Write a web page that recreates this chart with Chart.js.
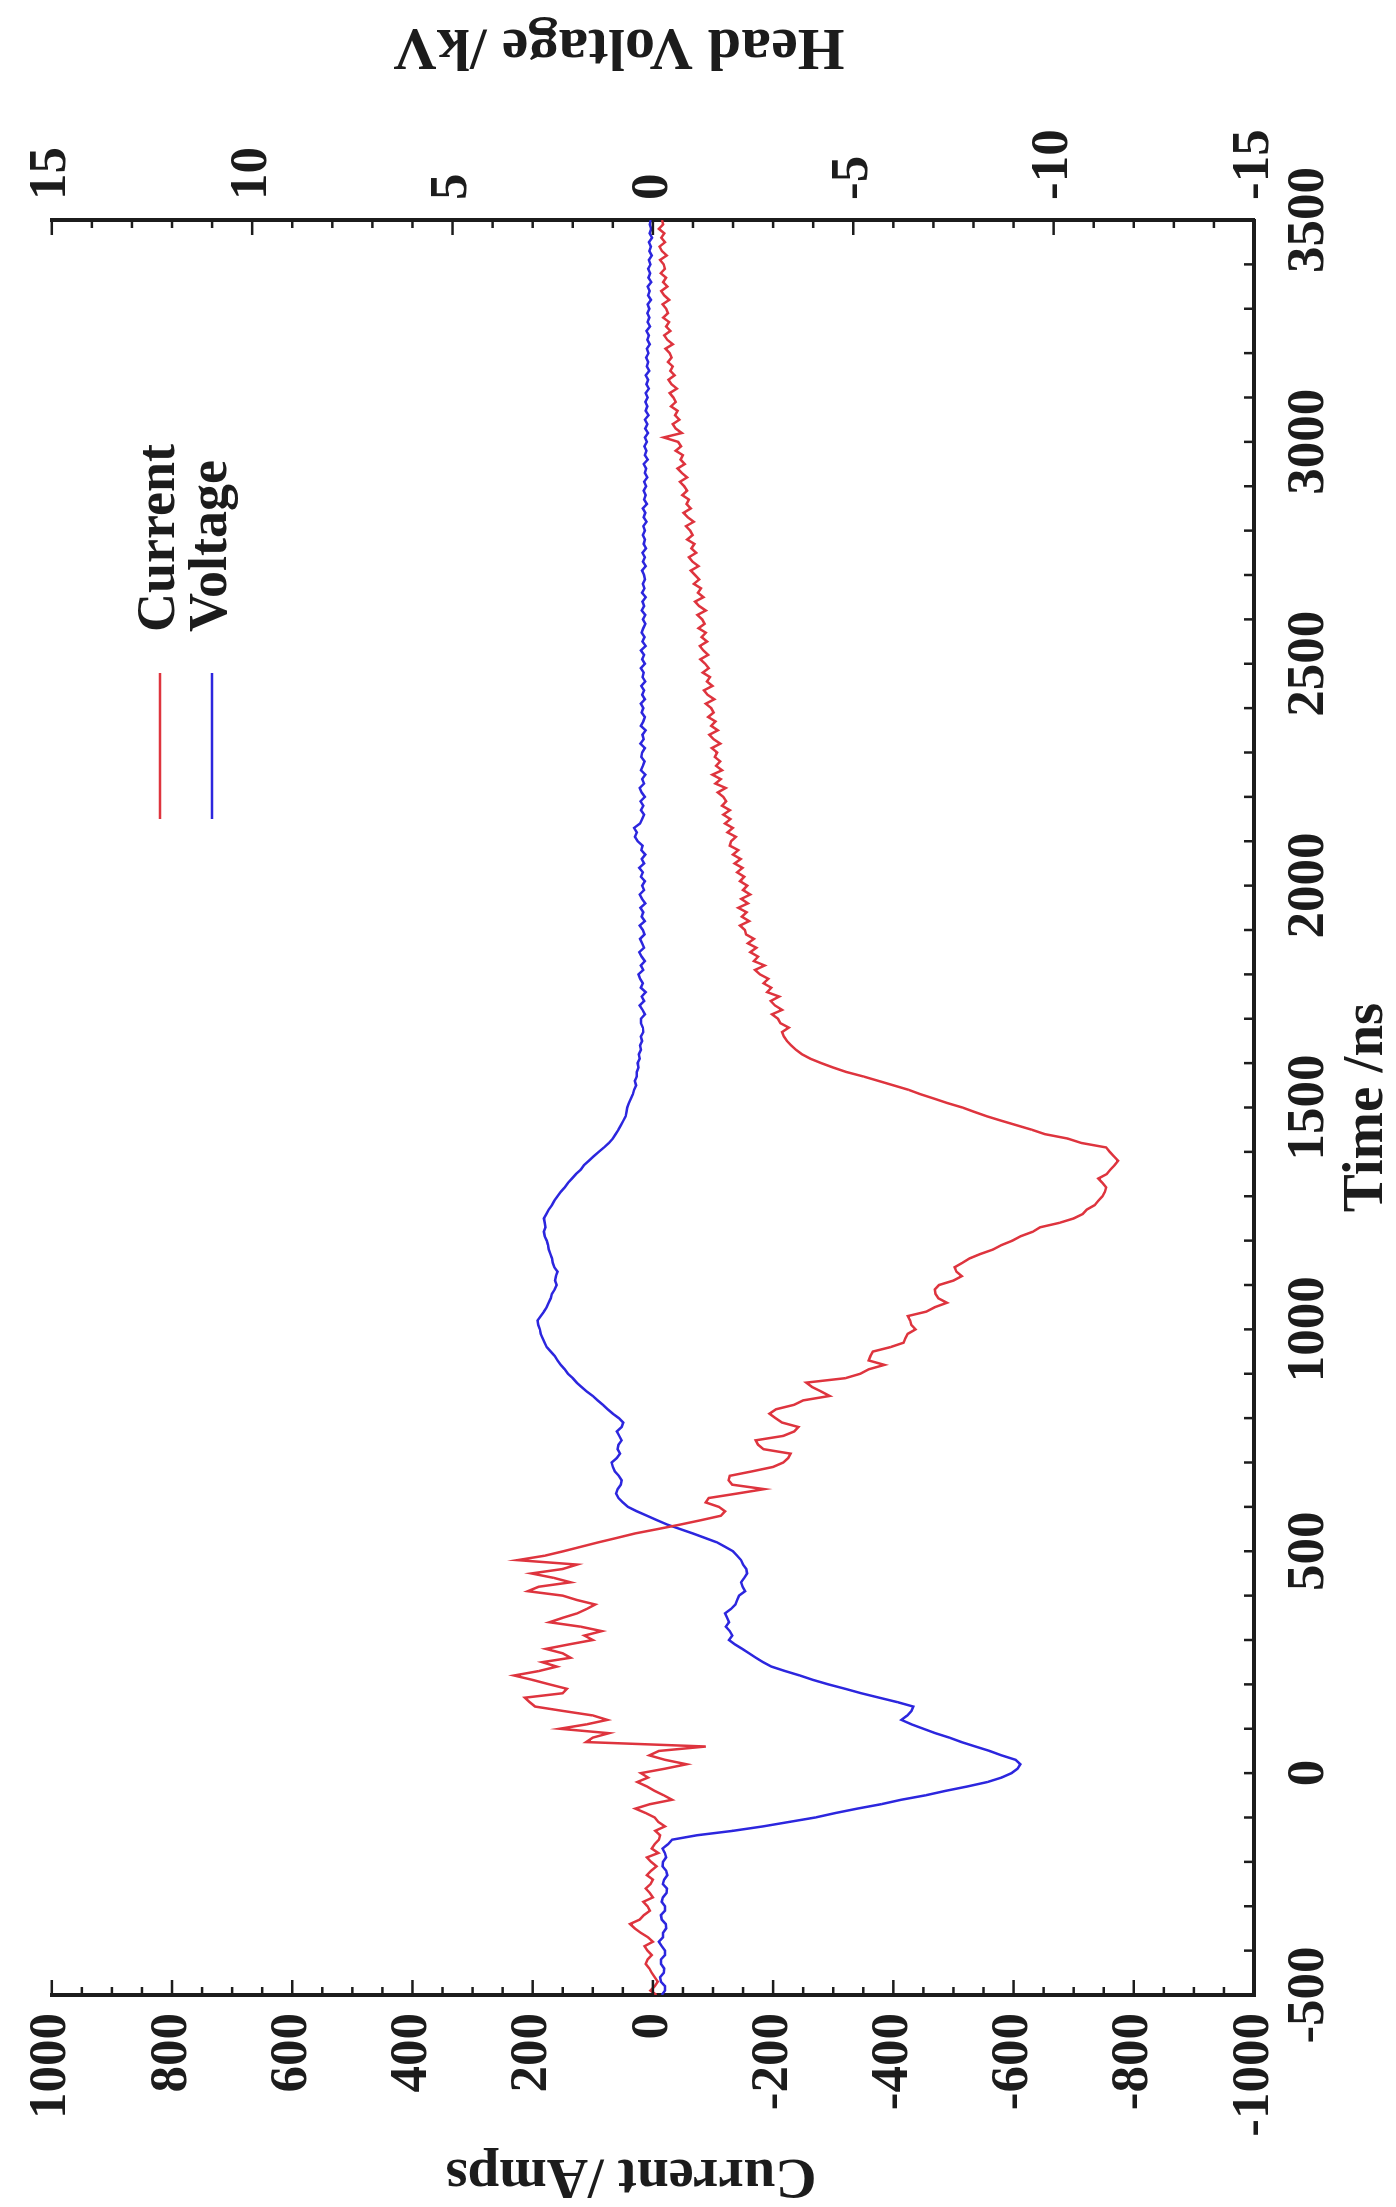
<!DOCTYPE html>
<html>
<head>
<meta charset="utf-8">
<title>Current and head voltage</title>
<script src="https://cdn.jsdelivr.net/npm/chart.js@4.4.1/dist/chart.umd.min.js"></script>
<style>
  html, body { margin: 0; padding: 0; background: #fff; overflow: hidden; }
  /* the original figure is printed sideways, so the whole chart is turned a quarter turn */
  #wrap {
    position: absolute; left: 0; top: 0;
    width: 2207px; height: 1396px;
    transform-origin: 0 0;
    transform: translate(0px, 2207px) rotate(-90deg);
  }
</style>
</head>
<body>
<div id="wrap"><canvas id="myChart" width="2207" height="1396"></canvas></div>
<script>
// time base (ns), one sample every 10 ns
const times = [
  -500, -490, -480, -470, -460, -450, -440, -430, -420, -410, -400, -390, -380, -370, -360, -350, -340, -330, -320, -310,
  -300, -290, -280, -270, -260, -250, -240, -230, -220, -210, -200, -190, -180, -170, -160, -150, -140, -130, -120, -110,
  -100, -90, -80, -70, -60, -50, -40, -30, -20, -10, 0, 10, 20, 30, 40, 50, 60, 70, 80, 90,
  100, 110, 120, 130, 140, 150, 160, 170, 180, 190, 200, 210, 220, 230, 240, 250, 260, 270, 280, 290,
  300, 310, 320, 330, 340, 350, 360, 370, 380, 390, 400, 410, 420, 430, 440, 450, 460, 470, 480, 490,
  500, 510, 520, 530, 540, 550, 560, 570, 580, 590, 600, 610, 620, 630, 640, 650, 660, 670, 680, 690,
  700, 710, 720, 730, 740, 750, 760, 770, 780, 790, 800, 810, 820, 830, 840, 850, 860, 870, 880, 890,
  900, 910, 920, 930, 940, 950, 960, 970, 980, 990, 1000, 1010, 1020, 1030, 1040, 1050, 1060, 1070, 1080, 1090,
  1100, 1110, 1120, 1130, 1140, 1150, 1160, 1170, 1180, 1190, 1200, 1210, 1220, 1230, 1240, 1250, 1260, 1270, 1280, 1290,
  1300, 1310, 1320, 1330, 1340, 1350, 1360, 1370, 1380, 1390, 1400, 1410, 1420, 1430, 1440, 1450, 1460, 1470, 1480, 1490,
  1500, 1510, 1520, 1530, 1540, 1550, 1560, 1570, 1580, 1590, 1600, 1610, 1620, 1630, 1640, 1650, 1660, 1670, 1680, 1690,
  1700, 1710, 1720, 1730, 1740, 1750, 1760, 1770, 1780, 1790, 1800, 1810, 1820, 1830, 1840, 1850, 1860, 1870, 1880, 1890,
  1900, 1910, 1920, 1930, 1940, 1950, 1960, 1970, 1980, 1990, 2000, 2010, 2020, 2030, 2040, 2050, 2060, 2070, 2080, 2090,
  2100, 2110, 2120, 2130, 2140, 2150, 2160, 2170, 2180, 2190, 2200, 2210, 2220, 2230, 2240, 2250, 2260, 2270, 2280, 2290,
  2300, 2310, 2320, 2330, 2340, 2350, 2360, 2370, 2380, 2390, 2400, 2410, 2420, 2430, 2440, 2450, 2460, 2470, 2480, 2490,
  2500, 2510, 2520, 2530, 2540, 2550, 2560, 2570, 2580, 2590, 2600, 2610, 2620, 2630, 2640, 2650, 2660, 2670, 2680, 2690,
  2700, 2710, 2720, 2730, 2740, 2750, 2760, 2770, 2780, 2790, 2800, 2810, 2820, 2830, 2840, 2850, 2860, 2870, 2880, 2890,
  2900, 2910, 2920, 2930, 2940, 2950, 2960, 2970, 2980, 2990, 3000, 3010, 3020, 3030, 3040, 3050, 3060, 3070, 3080, 3090,
  3100, 3110, 3120, 3130, 3140, 3150, 3160, 3170, 3180, 3190, 3200, 3210, 3220, 3230, 3240, 3250, 3260, 3270, 3280, 3290,
  3300, 3310, 3320, 3330, 3340, 3350, 3360, 3370, 3380, 3390, 3400, 3410, 3420, 3430, 3440, 3450, 3460, 3470, 3480, 3490,
  3500
];

// current (Amps)
const current = [
  -6, 4, -3, -8, -3, 2, 6, 12, 9, 2, 9, 14, 0, 8, 20, 30, 38, 22, 15, 5,
  9, 16, 0, 5, 12, 4, 0, 10, 3, -6, 3, 10, -9, 2, -3, -10, -12, -4, -20, -9,
  -3, 12, 29, 5, -32, -18, -3, 10, 26, 8, 20, -20, -56, -20, 6, -10, -88, 111, 100, 73,
  155, 110, 76, 100, 149, 196, 205, 213, 150, 143, 172, 200, 231, 190, 160, 184, 137, 150, 178, 140,
  100, 114, 85, 120, 172, 150, 126, 110, 96, 126, 150, 208, 190, 137, 165, 202, 150, 126, 225, 180,
  149, 120, 91, 60, 30, -8, -45, -80, -113, -120, -110, -88, -93, -140, -185, -132, -126, -128, -165, -200,
  -217, -225, -229, -184, -175, -171, -217, -235, -242, -215, -204, -194, -205, -235, -250, -294, -280, -265, -255, -320,
  -345, -359, -385, -359, -362, -366, -395, -417, -420, -424, -437, -430, -428, -424, -455, -469, -489, -475, -470, -469,
  -476, -500, -514, -505, -502, -515, -527, -545, -566, -580, -598, -612, -632, -644, -676, -700, -715, -722, -735, -741,
  -748, -752, -754, -748, -741, -755, -761, -768, -774, -767, -760, -754, -713, -690, -652, -630, -605, -580, -556, -535,
  -515, -490, -468, -445, -425, -400, -375, -350, -322, -300, -280, -262, -248, -238, -230, -223, -218, -215, -226, -212,
  -208, -198, -215, -203, -196, -210, -190, -197, -184, -192, -178, -170, -186, -168, -175, -162, -172, -158, -168, -155,
  -153, -145, -160, -148, -156, -142, -158, -147, -162, -150, -157, -145, -152, -140, -149, -136, -146, -133, -142, -128,
  -130, -138, -124, -133, -120, -129, -117, -128, -115, -122, -117, -108, -121, -104, -113, -99, -115, -105, -112, -103,
  -107, -98, -112, -101, -94, -108, -97, -104, -92, -101, -97, -88, -102, -91, -85, -99, -90, -95, -83, -93,
  -87, -79, -92, -84, -78, -90, -81, -88, -76, -86, -82, -74, -88, -77, -70, -84, -75, -80, -68, -77,
  -70, -63, -76, -66, -60, -72, -64, -69, -57, -66, -62, -55, -68, -58, -51, -63, -56, -60, -49, -57,
  -52, -45, -57, -48, -41, -53, -46, -50, -38, -47, -42, -18, -48, -38, -33, -44, -37, -41, -30, -38,
  -34, -28, -40, -31, -26, -36, -29, -33, -25, -31, -28, -21, -33, -24, -19, -29, -22, -27, -17, -25,
  -22, -16, -27, -19, -14, -24, -17, -22, -13, -20, -18, -12, -23, -15, -11, -20, -14, -19, -10, -17,
  -15
];

// head voltage (kV)
const voltage = [
  -0.22, -0.3, -0.3, -0.2, -0.18, -0.27, -0.28, -0.2, -0.2, -0.3, -0.3, -0.22, -0.15, -0.25, -0.25, -0.33, -0.32, -0.22, -0.2, -0.3,
  -0.3, -0.22, -0.25, -0.34, -0.35, -0.25, -0.28, -0.36, -0.33, -0.24, -0.25, -0.33, -0.3, -0.24, -0.38, -0.48, -1.1, -2.0, -2.75, -3.4,
  -4.05, -4.55, -5.1, -5.7, -6.2, -6.8, -7.3, -7.85, -8.35, -8.7, -8.95, -9.1, -9.17, -9.05, -8.7, -8.4, -8.05, -7.7, -7.4, -7.05,
  -6.75, -6.45, -6.2, -6.35, -6.45, -6.5, -6.1, -5.65, -5.2, -4.8, -4.38, -4.0, -3.67, -3.3, -2.96, -2.75, -2.57, -2.4, -2.23, -2.05,
  -1.9, -1.98, -1.92, -1.82, -1.9, -1.85, -1.8, -1.95, -2.06, -2.1, -2.15, -2.3, -2.24, -2.2, -2.28, -2.35, -2.33, -2.25, -2.2, -2.1,
  -2.0, -1.8, -1.6, -1.3, -1.0, -0.68, -0.36, -0.1, 0.15, 0.4, 0.62, 0.75, 0.86, 0.92, 0.88, 0.8, 0.78, 0.85, 0.95, 1.0,
  1.03, 0.9, 0.82, 0.88, 0.86, 0.78, 0.84, 0.9, 0.78, 0.74, 0.85, 1.0, 1.13, 1.25, 1.38, 1.5, 1.65, 1.78, 1.9, 2.0,
  2.12, 2.2, 2.3, 2.38, 2.45, 2.55, 2.65, 2.7, 2.75, 2.8, 2.82, 2.86, 2.88, 2.8, 2.72, 2.65, 2.6, 2.55, 2.52, 2.45,
  2.4, 2.44, 2.42, 2.38, 2.46, 2.5, 2.52, 2.56, 2.6, 2.62, 2.65, 2.7, 2.72, 2.68, 2.7, 2.72, 2.66, 2.6, 2.52, 2.46,
  2.38, 2.3, 2.2, 2.12, 2.02, 1.92, 1.8, 1.72, 1.6, 1.48, 1.35, 1.22, 1.1, 1.0, 0.93, 0.86, 0.8, 0.74, 0.68, 0.66,
  0.64, 0.6, 0.55, 0.5, 0.47, 0.42, 0.45, 0.4, 0.4, 0.36, 0.38, 0.33, 0.35, 0.3, 0.32, 0.27, 0.3, 0.24, 0.25, 0.3,
  0.3, 0.2, 0.26, 0.33, 0.22, 0.28, 0.18, 0.3, 0.25, 0.32, 0.36, 0.24, 0.3, 0.2, 0.28, 0.34, 0.22, 0.27, 0.32, 0.21,
  0.25, 0.33, 0.2, 0.28, 0.24, 0.31, 0.19, 0.27, 0.33, 0.22, 0.27, 0.2, 0.3, 0.25, 0.34, 0.22, 0.28, 0.19, 0.29, 0.26,
  0.38, 0.45, 0.4, 0.47, 0.32, 0.27, 0.22, 0.3, 0.24, 0.31, 0.2, 0.28, 0.33, 0.22, 0.27, 0.19, 0.3, 0.25, 0.21, 0.29,
  0.27, 0.2, 0.31, 0.23, 0.26, 0.18, 0.3, 0.24, 0.2, 0.28, 0.24, 0.3, 0.2, 0.27, 0.22, 0.29, 0.19, 0.26, 0.23, 0.3,
  0.2, 0.27, 0.22, 0.3, 0.18, 0.26, 0.21, 0.28, 0.24, 0.19, 0.25, 0.19, 0.28, 0.22, 0.26, 0.18, 0.27, 0.21, 0.25, 0.2,
  0.22, 0.27, 0.18, 0.25, 0.2, 0.26, 0.17, 0.23, 0.2, 0.25, 0.2, 0.24, 0.16, 0.23, 0.19, 0.25, 0.15, 0.22, 0.18, 0.23,
  0.17, 0.22, 0.14, 0.2, 0.17, 0.23, 0.13, 0.2, 0.16, 0.21, 0.15, 0.2, 0.12, 0.19, 0.14, 0.2, 0.11, 0.18, 0.14, 0.19,
  0.13, 0.18, 0.1, 0.16, 0.12, 0.18, 0.09, 0.15, 0.12, 0.17, 0.11, 0.15, 0.08, 0.14, 0.1, 0.16, 0.07, 0.13, 0.09, 0.14,
  0.09, 0.13, 0.05, 0.12, 0.08, 0.13, 0.04, 0.11, 0.07, 0.12, 0.06, 0.1, 0.03, 0.09, 0.05, 0.1, 0.02, 0.08, 0.04, 0.08,
  0.05
];

// labelled ticks
const timeTicks = [-500, 0, 500, 1000, 1500, 2000, 2500, 3000, 3500];
const currentTicks = [-1000, -800, -600, -400, -200, 0, 200, 400, 600, 800, 1000];
const voltageTicks = [-15, -10, -5, 0, 5, 10, 15];

const FONT = '"Liberation Serif", "Times New Roman", serif';
const INK = '#1c1c1c';
const RED = 'rgb(222, 52, 62)';
const BLUE = 'rgb(44, 38, 222)';

const toPoints = (vals) => vals.map((v, i) => ({x: times[i], y: v}));
const useTicks = (list) => (scale) => { scale.ticks = list.map(v => ({value: v})); };

// small inward tick marks along the three drawn axes
const innerTicks = {
    id: 'innerTicks',
    afterDraw(chart) {
        const {ctx, chartArea: a} = chart;
        const {x, y, y2} = chart.scales;
        const mark = (x1, y1, x2, y3) => {
            ctx.beginPath();
            ctx.moveTo(x1, y1);
            ctx.lineTo(x2, y3);
            ctx.stroke();
        };
        ctx.save();
        ctx.strokeStyle = INK;
        ctx.lineWidth = 2.5;
        for (let v = x.min; v <= x.max; v += 100) {
            const px = x.getPixelForValue(v);
            mark(px, a.bottom, px, a.bottom - 10);
        }
        for (let v = y.min; v <= y.max; v += 50) {
            const py = y.getPixelForValue(v);
            mark(a.left, py, a.left + (v % 200 === 0 ? 15 : 8), py);
        }
        for (let v = y2.min; v <= y2.max; v += 1) {
            const py = y2.getPixelForValue(v);
            mark(a.right, py, a.right - (v % 5 === 0 ? 15 : 8), py);
        }
        ctx.restore();
    }
};

// line legend inside the plot and the two side titles (both read the same way as the print)
const sideText = {
    id: 'sideText',
    afterDraw(chart) {
        const ctx = chart.ctx;
        const {y, y2} = chart.scales;
        const sideTitle = (text, size, cx, cy) => {
            ctx.save();
            ctx.font = 'bold ' + size + 'px ' + FONT;
            ctx.translate(cx, cy);
            ctx.rotate(-Math.PI / 2);
            ctx.textAlign = 'center';
            ctx.fillText(text, 0, 0);
            ctx.restore();
        };
        ctx.save();
        ctx.textBaseline = 'middle';
        ctx.fillStyle = INK;
        ctx.font = 'bold 54px ' + FONT;
        chart.data.datasets.forEach((ds, i) => {
            const yy = 160 + i * 52;
            ctx.strokeStyle = ds.borderColor;
            ctx.lineWidth = 2.5;
            ctx.beginPath();
            ctx.moveTo(1388, yy);
            ctx.lineTo(1534, yy);
            ctx.stroke();
            ctx.textAlign = 'left';
            ctx.fillText(ds.label, 1575, yy);
        });
        sideTitle('Current /Amps', 57, y.left + 32, 631);
        sideTitle('Head Voltage /kV', 60, y2.right - 46, 619);
        ctx.restore();
    }
};

const tickFont = {family: FONT, size: 53, weight: 'bold'};
const titleFont = {family: FONT, size: 57, weight: 'bold', lineHeight: 1};

const myChart = new Chart(
    document.getElementById('myChart'),
    {
        type: 'line',
        data: {
            datasets: [
                {
                    label: 'Current',
                    data: toPoints(current),
                    yAxisID: 'y',
                    borderColor: RED,
                    borderWidth: 2.5,
                    pointRadius: 0,
                    tension: 0,
                    fill: false
                },
                {
                    label: 'Voltage',
                    data: toPoints(voltage),
                    yAxisID: 'y2',
                    borderColor: BLUE,
                    borderWidth: 2.5,
                    pointRadius: 0,
                    tension: 0,
                    fill: false
                }
            ]
        },
        options: {
            responsive: false,
            animation: false,
            devicePixelRatio: 1,
            layout: {padding: {top: 33, left: 0, right: 0, bottom: 0}},
            plugins: {legend: {display: false}, tooltip: {enabled: false}},
            scales: {
                x: {
                    type: 'linear',
                    position: 'bottom',
                    min: -500,
                    max: 3500,
                    afterBuildTicks: useTicks(timeTicks),
                    afterFit: (s) => { s.height = 142; },
                    grid: {display: false, drawTicks: false},
                    border: {display: true, color: INK, width: 4},
                    ticks: {color: INK, padding: 24, autoSkip: false, maxRotation: 0,
                            font: tickFont, callback: (v) => String(v)},
                    title: {display: true, text: 'Time /ns', color: INK, padding: 0, font: titleFont}
                },
                y: {
                    type: 'linear',
                    position: 'left',
                    min: -1000,
                    max: 1000,
                    afterBuildTicks: useTicks(currentTicks),
                    afterFit: (s) => { s.width = 212; },
                    grid: {display: false, drawTicks: false},
                    border: {display: true, color: INK, width: 4},
                    ticks: {color: INK, padding: 18, autoSkip: false,
                            font: tickFont, callback: (v) => String(v)}
                },
                y2: {
                    type: 'linear',
                    position: 'right',
                    min: -15,
                    max: 15,
                    afterBuildTicks: useTicks(voltageTicks),
                    afterFit: (s) => { s.width = 220; },
                    grid: {display: false, drawTicks: false},
                    border: {display: true, color: INK, width: 4},
                    ticks: {color: INK, padding: 20, autoSkip: false,
                            font: tickFont, callback: (v) => String(v)}
                }
            }
        },
        plugins: [innerTicks, sideText]
    }
);
</script>
</body>
</html>
